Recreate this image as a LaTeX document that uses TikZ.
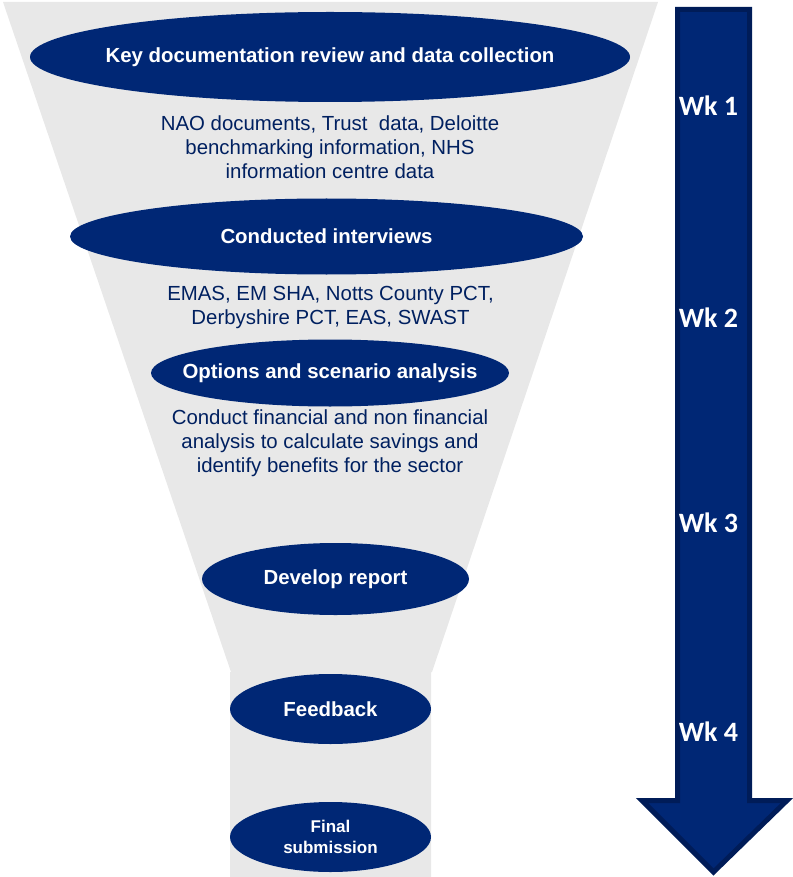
\documentclass[tikz,border=0pt]{standalone}
\usepackage{fontspec}
\setmainfont{Liberation Sans}
\newfontfamily\wkfont{Carlito}
\usetikzlibrary{shapes.geometric}
\definecolor{navy}{RGB}{0,39,117}
\definecolor{navydark}{RGB}{0,28,88}
\definecolor{txtnavy}{RGB}{0,32,96}
\definecolor{funnelgray}{RGB}{232,232,232}
\tikzset{
  ell/.style 2 args={ellipse, fill=navy, draw=none, inner sep=0pt, minimum width=#1, minimum height=#2},
  etxt/.style={text=white, font=\fontsize{20.4}{22}\selectfont\bfseries, align=center, inner sep=0pt},
  dtxt/.style={text=txtnavy, font=\fontsize{20.4}{24}\selectfont, align=center, inner sep=0pt},
  wk/.style={text=white, font=\wkfont\fontsize{28}{30}\selectfont\bfseries, inner sep=0pt}
}
\begin{document}
\begin{tikzpicture}[x=1pt,y=-1pt]
\useasboundingbox (0,0) rectangle (792,877);
% funnel
\fill[funnelgray] (3,2) -- (658,2) -- (432,672) -- (431,672) -- (431,877) -- (230,877) -- (230,672) -- (231,672) -- cycle;
% arrow
\filldraw[fill=navy, draw=navydark, line width=5pt, line join=miter]
  (677.5,9.5) -- (749.5,9.5) -- (749.5,800.5) -- (787,800.5) -- (713.5,872) -- (642,800.5) -- (677.5,800.5) -- cycle;
% ellipses
\node[ell={600}{90}] (e1) at (330,57) {};
\node[etxt] (t1) at (e1) {Key documentation review and data collection};
\node[ell={513}{76}] (e2) at (326.5,236.5) {};
\node[etxt] (t2) at (e2) {Conducted interviews};
\node[ell={358}{67}] (e3) at (330,373) {};
\node[etxt] (t3) at (e3) {Options and scenario analysis};
\node[ell={267}{72}] (e4) at (335.5,579) {};
\node[etxt] (t4) at (e4) {Develop report};
\node[ell={201}{70}] (e5) at (330.5,709) {};
\node[etxt] (t5) at (e5) {Feedback};
\node[ell={201}{70}] (e6) at (330.5,837) {};
\node[etxt, font=\fontsize{17}{21}\selectfont\bfseries] (t6) at (e6) {Final\\submission};
% descriptions
\node[dtxt] (d1) at (330,147) {NAO documents, Trust\ \ data, Deloitte\\benchmarking information, NHS\\information centre data};
\node[dtxt] (d2) at (330.5,307) {EMAS, EM SHA, Notts County PCT,\\Derbyshire PCT, EAS, SWAST};
\node[dtxt] (d3) at (330,443) {Conduct financial and non financial\\analysis to calculate savings and\\identify benefits for the sector};
% weeks
\node[wk] (w1) at (708.5,106) {Wk 1};
\node[wk] (w2) at (708.5,318) {Wk 2};
\node[wk] (w3) at (708.5,522.5) {Wk 3};
\node[wk] (w4) at (708.5,732) {Wk 4};
\end{tikzpicture}
\end{document}
